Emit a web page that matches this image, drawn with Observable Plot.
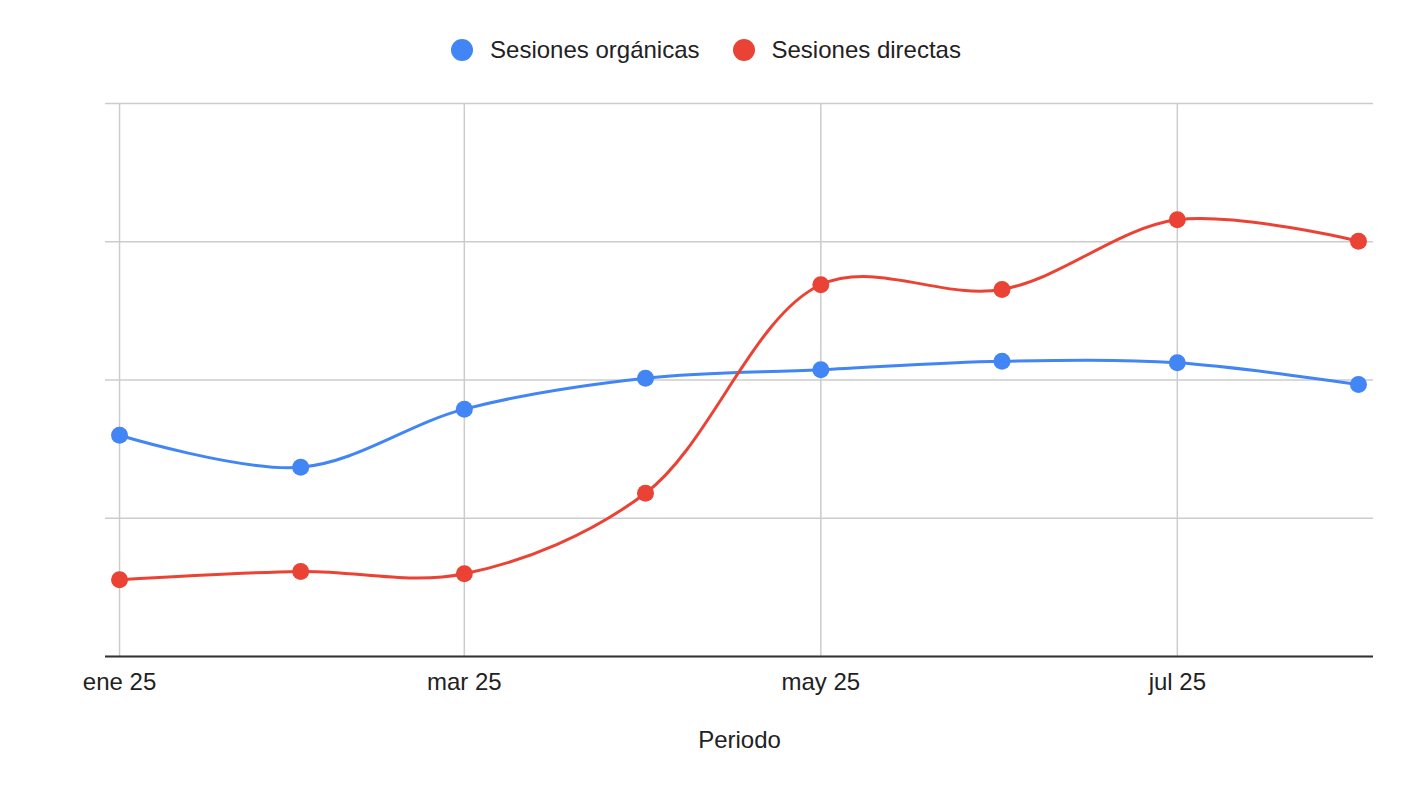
<!DOCTYPE html>
<html>
<head>
<meta charset="utf-8">
<script src="https://cdn.jsdelivr.net/npm/d3@7"></script>
<script src="https://cdn.jsdelivr.net/npm/@observablehq/plot@0.6"></script>
<style>
  html, body { margin: 0; padding: 0; background: #fff; }
  body { width: 1412px; height: 792px; overflow: hidden; font-family: "Liberation Sans", Arial, sans-serif; }
  #legend { height: 100px; display: flex; justify-content: center; align-items: center; font-size: 24px; color: #222; }
  .item { display: flex; align-items: center; }
  .sw { width: 22px; height: 22px; border-radius: 50%; margin-right: 17px; }
  .item + .item { margin-left: 33px; }
  #chart svg { display: block; }
</style>
</head>
<body>
<div id="legend"></div>
<div id="chart"></div>
<script>
const months = ["2025-01-01","2025-02-01","2025-03-01","2025-04-01","2025-05-01","2025-06-01","2025-07-01","2025-08-01"];
const organicas = [1600, 1369, 1789, 2013, 2074, 2136, 2124, 1967];
const directas = [555, 615, 598, 1181, 2689, 2655, 3159, 3004];
const seriesNames = ["Sesiones orgánicas", "Sesiones directas"];
const seriesColors = ["#4285F4", "#EA4335"];
const tickDates = ["2025-01-01","2025-03-01","2025-05-01","2025-07-01"];
const tickLabels = ["ene 25", "mar 25", "may 25", "jul 25"];
const yTicks = [0, 1000, 2000, 3000, 4000];

const parse = s => new Date(s + "T00:00:00Z");
const data = [];
months.forEach((m, i) => {
  data.push({date: parse(m), value: organicas[i], serie: seriesNames[0]});
  data.push({date: parse(m), value: directas[i], serie: seriesNames[1]});
});
const ticks = tickDates.map(parse);
const labelOf = new Map(ticks.map((t, i) => [+t, tickLabels[i]]));

// legend
const legend = document.getElementById("legend");
seriesNames.forEach((n, i) => {
  const it = document.createElement("div");
  it.className = "item";
  it.innerHTML = `<span class="sw" style="background:${seriesColors[i]}"></span><span>${n}</span>`;
  legend.appendChild(it);
});

const day = 86400000;
const x0 = new Date(parse(months[0]).getTime() - 2.4 * day);
const x1 = new Date(parse(months[months.length - 1]).getTime() + 2.57 * day);

const chart = Plot.plot({
  width: 1412,
  height: 692,
  marginTop: 3,
  marginBottom: 136,
  marginLeft: 105,
  marginRight: 39,
  style: {fontFamily: "'Liberation Sans', Arial, sans-serif", fontSize: "24px", color: "#222", background: "#fff"},
  x: {type: "utc", domain: [x0, x1]},
  y: {domain: [0, 4000]},
  color: {domain: seriesNames, range: seriesColors},
  marks: [
    Plot.gridY(yTicks, {stroke: "#cccccc", strokeOpacity: 1, strokeWidth: 1.5}),
    Plot.gridX(ticks, {stroke: "#cccccc", strokeOpacity: 1, strokeWidth: 1.5}),
    Plot.axisX(ticks, {tickSize: 0, tickPadding: 16, tickFormat: d => labelOf.get(+d), label: null, fill: "#222", fontSize: 24}),
    Plot.axisY({ticks: [], label: null}),
    Plot.ruleY([0], {stroke: "#333", strokeWidth: 2}),
    Plot.line(data, {x: "date", y: "value", z: "serie", stroke: "serie", strokeWidth: 3, curve: "catmull-rom"}),
    Plot.dot(data, {x: "date", y: "value", fill: "serie", r: 8.5, stroke: "none"}),
    Plot.text(["Periodo"], {frameAnchor: "bottom", dy: 84, lineAnchor: "middle", fontSize: 24, fill: "#222"})
  ]
});
document.getElementById("chart").appendChild(chart);
</script>
</body>
</html>
